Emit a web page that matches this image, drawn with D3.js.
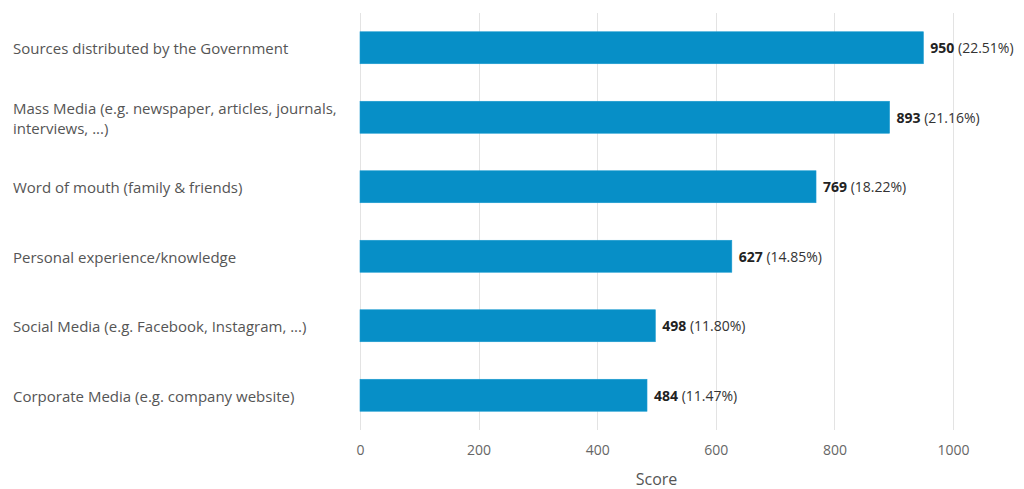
<!DOCTYPE html>
<html>
<head>
<meta charset="utf-8">
<script src="https://cdn.jsdelivr.net/npm/d3@7"></script>
<style>
  html, body { margin: 0; padding: 0; background: #fff; }
  svg { display: block; font-family: "Open Sans", sans-serif; }
</style>
</head>
<body>
<svg id="chart" width="1024" height="489"></svg>
<script>
// Source categories (label lines) and their scores
const categories = [
  ["Sources distributed by the Government"],
  ["Mass Media (e.g. newspaper, articles, journals,", "interviews, ...)"],
  ["Word of mouth (family & friends)"],
  ["Personal experience/knowledge"],
  ["Social Media (e.g. Facebook, Instagram, ...)"],
  ["Corporate Media (e.g. company website)"]
];
const scores = [950, 893, 769, 627, 498, 484];
const shares = ["22.51%", "21.16%", "18.22%", "14.85%", "11.80%", "11.47%"];
const xTicks = [0, 200, 400, 600, 800, 1000];
const axisTitle = "Score";

const svg = d3.select("#chart");
const idx = d3.range(categories.length);

const x = d3.scaleLinear().domain([0, 1000]).range([360, 953]);
const y = d3.scaleBand().domain(idx).range([13, 430])
  .paddingInner(0.54).paddingOuter(0.27);

// vertical grid lines
svg.append("g").selectAll("line").data(xTicks).join("line")
  .attr("x1", d => Math.round(x(d)) + 0.5).attr("x2", d => Math.round(x(d)) + 0.5)
  .attr("y1", 13).attr("y2", 430)
  .attr("stroke", "#e3e3e3").attr("stroke-width", 1);

// x axis tick labels
const xAxis = d3.axisBottom(x).tickValues(xTicks).tickFormat(d3.format("d"))
  .tickSize(0).tickPadding(0);
const gx = svg.append("g").attr("transform", "translate(0,445)").call(xAxis);
gx.select(".domain").remove();
gx.selectAll("text").attr("fill", "#666").style("font-size", "14px")
  .style("font-family", "'Open Sans', sans-serif");

svg.append("text").attr("x", (x(0) + x(1000)) / 2).attr("y", 485)
  .attr("text-anchor", "middle").attr("fill", "#555")
  .style("font-size", "16px").text(axisTitle);

// bars
svg.append("g").selectAll("rect").data(idx).join("rect")
  .attr("x", x(0)).attr("y", i => y(i))
  .attr("width", i => x(scores[i]) - x(0))
  .attr("height", y.bandwidth())
  .attr("fill", "#078fc7")
  .attr("stroke", "#1a9ad0").attr("stroke-width", 0.6);

// category labels
const lab = svg.append("g").selectAll("text").data(idx).join("text")
  .attr("fill", "#555").style("font-size", "15px");
lab.each(function(i) {
  const lines = categories[i];
  const cy = y(i) + y.bandwidth() / 2;
  const lh = 20;
  const t = d3.select(this);
  lines.forEach((s, k) => {
    t.append("tspan").attr("x", 13)
      .attr("y", cy + (k - (lines.length - 1) / 2) * lh)
      .attr("dy", "0.42em").text(s);
  });
});

// value labels
const vl = svg.append("g").selectAll("text").data(idx).join("text")
  .attr("x", i => x(scores[i]) + 7)
  .attr("y", i => y(i) + y.bandwidth() / 2)
  .attr("dy", "0.4em").style("font-size", "14px");
vl.append("tspan").attr("font-weight", "bold").attr("fill", "#222").text(i => scores[i]);
vl.append("tspan").attr("fill", "#333").text(i => " (" + shares[i] + ")");
</script>
</body>
</html>
